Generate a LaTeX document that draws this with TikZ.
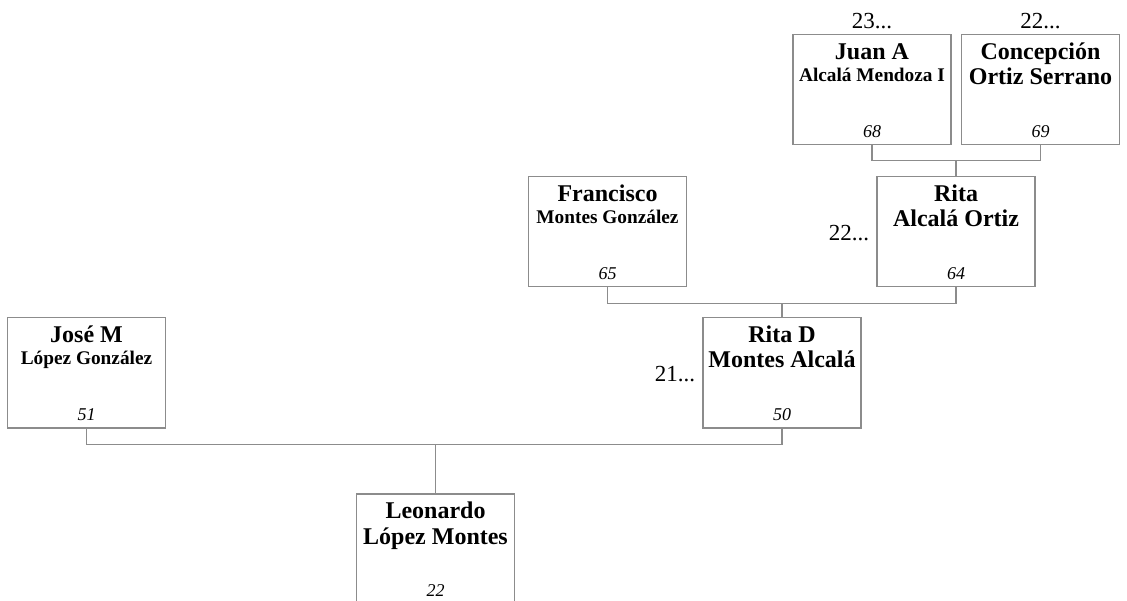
\documentclass[tikz,border=0pt]{standalone}
\usepackage{fontspec}
\setmainfont{Liberation Serif}
\usetikzlibrary{calc}
\definecolor{gris}{RGB}{140,140,140}

\newcommand{\persona}[6]{%
	\node[caja] (#1) at (#2) {};
	\node[nom] (#1-n) at (#1.north) {#3};
	\node[#5] (#1-a) at (#1.north) {#4};
	\node[num] (#1-e) at (#1.south) {#6};
}

\begin{document}
\begin{tikzpicture}[x=1pt,y=-1pt,
	caja/.style={draw=gris,line width=1.5pt,minimum width=158pt,minimum height=110pt,anchor=north,inner sep=0pt},
	txt/.style={anchor=base,inner sep=0pt},
	nom/.style={txt,yshift=-25.5pt,font=\fontsize{24}{28}\selectfont\bfseries},
	ape/.style={txt,yshift=-51pt,font=\fontsize{24}{28}\selectfont\bfseries},
	apechico/.style={txt,yshift=-47.5pt,font=\fontsize{19.3}{22}\selectfont\bfseries},
	num/.style={txt,yshift=8pt,font=\fontsize{18}{20}\selectfont\itshape},
	gen/.style={inner sep=0pt,font=\fontsize{23}{26}\selectfont},
	lin/.style={draw=gris,line width=1.2pt}]
	\useasboundingbox (0,0) rectangle (1127,601);
	\persona{jose}{86.5,317}{José M}{López González}{apechico}{51}
	\persona{ritad}{782,317}{Rita D}{Montes Alcalá}{ape}{50}
	\persona{leonardo}{435.5,493}{Leonardo}{López Montes}{ape}{22}
	\persona{francisco}{607.5,176}{Francisco}{Montes González}{apechico}{65}
	\persona{ritaa}{956,176}{Rita}{Alcalá Ortiz}{ape}{64}
	\persona{juan}{872,34}{Juan A}{Alcalá Mendoza I}{apechico}{68}
	\persona{concepcion}{1040.5,34}{Concepción}{Ortiz Serrano}{ape}{69}

	\node[gen,anchor=base,yshift=5pt] (juan-g) at (juan.north) {23...};
	\node[gen,anchor=base,yshift=5pt] (concepcion-g) at (concepcion.north) {22...};
	\node[gen,anchor=base east,xshift=-7pt,yshift=-65pt] (ritaa-g) at (ritaa.north west) {22...};
	\node[gen,anchor=base east,xshift=-7pt,yshift=-65pt] (ritad-g) at (ritad.north west) {21...};

	\coordinate (u1) at ($(jose.south)+(0,16)$);
	\coordinate (u2) at ($(francisco.south)+(0,16)$);
	\coordinate (u3) at ($(juan.south)+(0,15)$);
	\draw[lin] (jose.south) -- (u1) -| (ritad.south);
	\draw[lin] (u1 -| leonardo.north) -- (leonardo.north);
	\draw[lin] (francisco.south) -- (u2) -| (ritaa.south);
	\draw[lin] (u2 -| ritad.north) -- (ritad.north);
	\draw[lin] (juan.south) -- (u3) -| (concepcion.south);
	\draw[lin] (u3 -| ritaa.north) -- (ritaa.north);
\end{tikzpicture}
\end{document}
